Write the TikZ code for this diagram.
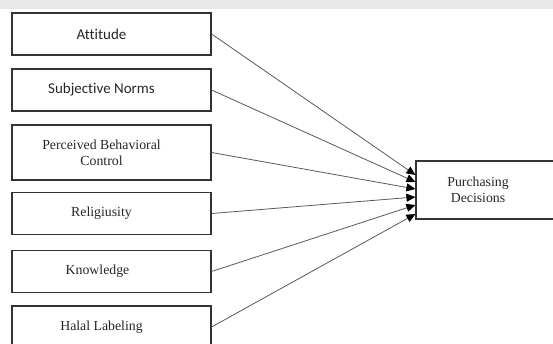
\documentclass[tikz,border=0pt]{standalone}
\usepackage{fontspec}
\setmainfont{Liberation Serif}
\newfontfamily\calibrifont[Ligatures=NoCommon]{Carlito}
\usetikzlibrary{arrows.meta}

\tikzset{
  factor/.style={draw=black!80,line width=1.1pt,minimum width=199pt,minimum height=42pt,inner sep=0pt},
  lbl/.style={xshift=-10pt,align=center,text=black!85,font=\fontsize{13.8}{16}\selectfont},
  lblsans/.style={lbl,font=\calibrifont\fontsize{15}{17}\selectfont},
  conn/.style={->,draw=black!65,line width=0.8pt},
}

\begin{document}
\begin{tikzpicture}[x=1pt,y=-1pt,>={Triangle[length=9pt,width=8pt,black]},semithick]
                \useasboundingbox (0,0) rectangle (553,344);
                \fill[black!9] (0,0) rectangle (553,9);

                \node[factor,label={[lblsans]center:Attitude}](att)at(111.5, 34){};
                \node[factor,label={[lblsans]center:Subjective Norms}](sn)at(111.5, 90){};
                \node[factor,minimum height=55pt,label={[lbl]center:Perceived Behavioral\\Control}](pbc)at(111.5, 152.5){};
                \node[factor,label={[lbl]center:Religiusity}](rel)at(111.5, 213.5){};
                \node[factor,label={[lbl,xshift=-4pt]center:Knowledge}](kn)at(111.5, 271.5){};
                \node[factor,label={[lbl]center:Halal Labeling}](hl)at(111.5, 327){};

                \node[factor,minimum width=140pt,minimum height=58pt,label={[lbl,xshift=2pt]center:Purchasing\\Decisions}](pd)at(486, 190){};

                \coordinate (t1) at ([yshift=15pt]pd.west);
                \coordinate (t2) at ([yshift=8pt]pd.west);
                \coordinate (t3) at ([yshift=1pt]pd.west);
                \coordinate (t4) at ([yshift=-7pt]pd.west);
                \coordinate (t5) at ([yshift=-15pt]pd.west);
                \coordinate (t6) at ([yshift=-24pt]pd.west);

                \path[]
                (att.east) edge[conn] (t1)
                (sn.east) edge[conn] (t2)
                (pbc.east) edge[conn] (t3)
                (rel.east) edge[conn] (t4)
                (kn.east) edge[conn] (t5)
                (hl.east) edge[conn] (t6);
            \end{tikzpicture}
\end{document}
